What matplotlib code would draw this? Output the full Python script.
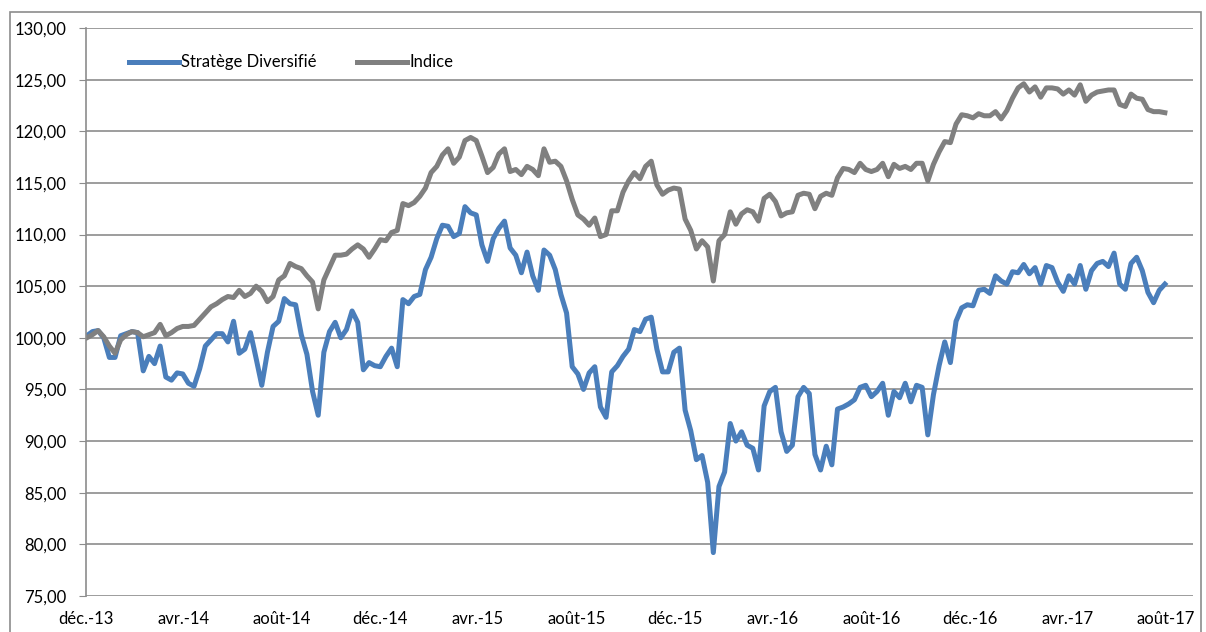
import matplotlib.pyplot as plt
from matplotlib.patches import Rectangle
from matplotlib.ticker import FuncFormatter
import pandas as pd

plt.rcParams['font.family'] = ['Lato', 'DejaVu Sans']

# valeurs hebdomadaires (déc. 2013 -> juil. 2017)
strat = [
    100.2, 100.6, 100.7, 100.0, 98.1, 98.1, 100.2, 100.4, 100.6, 100.5,
    96.8, 98.2, 97.5, 99.2, 96.2, 95.9, 96.6, 96.5, 95.6, 95.3,
    97.0, 99.2, 99.8, 100.4, 100.4, 99.6, 101.6, 98.5, 98.9, 100.5,
    98.0, 95.4, 98.6, 101.1, 101.6, 103.8, 103.3, 103.2, 100.3, 98.4,
    94.8, 92.5, 98.6, 100.6, 101.5, 100.0, 100.8, 102.6, 101.5, 96.9,
    97.6, 97.3, 97.2, 98.2, 99.0, 97.2, 103.7, 103.3, 104.0, 104.2,
    106.6, 107.8, 109.6, 110.9, 110.8, 109.8, 110.1, 112.7, 112.1, 111.9,
    109.0, 107.4, 109.6, 110.6, 111.3, 108.7, 108.0, 106.3, 108.3, 106.0,
    104.6, 108.5, 108.0, 106.6, 104.2, 102.4, 97.2, 96.5, 95.0, 96.6,
    97.2, 93.3, 92.3, 96.7, 97.3, 98.2, 98.9, 100.8, 100.6, 101.8,
    102.0, 98.9, 96.7, 96.7, 98.6, 99.0, 93.0, 91.0, 88.2, 88.6,
    86.0, 79.2, 85.6, 87.0, 91.7, 90.0, 90.9, 89.6, 89.3, 87.2,
    93.4, 94.8, 95.2, 90.9, 89.0, 89.6, 94.3, 95.2, 94.6, 88.7,
    87.2, 89.5, 87.7, 93.1, 93.3, 93.6, 94.0, 95.2, 95.4, 94.3,
    94.8, 95.6, 92.5, 94.8, 94.2, 95.6, 93.8, 95.4, 95.2, 90.6,
    94.5, 97.3, 99.6, 97.6, 101.6, 102.9, 103.2, 103.1, 104.6, 104.7,
    104.3, 106.0, 105.5, 105.2, 106.4, 106.3, 107.1, 106.2, 106.8, 105.2,
    107.0, 106.8, 105.4, 104.5, 106.0, 105.2, 107.0, 104.7, 106.5, 107.2,
    107.4, 106.9, 108.2, 105.2, 104.7, 107.2, 107.8, 106.5, 104.4, 103.4,
    104.6, 105.2,
]

indice = [
    100.0, 100.3, 100.7, 100.1, 99.2, 98.5, 99.8, 100.3, 100.6, 100.5,
    100.1, 100.3, 100.5, 101.3, 100.2, 100.5, 100.9, 101.1, 101.1, 101.2,
    101.8, 102.4, 103.0, 103.3, 103.7, 104.0, 103.9, 104.6, 104.0, 104.3,
    105.0, 104.5, 103.5, 104.0, 105.6, 106.0, 107.2, 106.9, 106.7, 106.0,
    105.4, 102.8, 105.6, 106.8, 108.0, 108.0, 108.1, 108.6, 109.0, 108.6,
    107.8, 108.6, 109.5, 109.4, 110.2, 110.4, 113.0, 112.8, 113.1, 113.7,
    114.5, 116.0, 116.6, 117.7, 118.3, 116.9, 117.5, 119.1, 119.4, 119.1,
    117.6, 116.0, 116.5, 117.8, 118.3, 116.1, 116.3, 115.8, 116.6, 116.3,
    115.7, 118.3, 117.0, 117.1, 116.6, 115.2, 113.4, 111.9, 111.5, 110.9,
    111.6, 109.8, 110.0, 112.3, 112.3, 114.1, 115.2, 116.0, 115.4, 116.6,
    117.1, 114.8, 113.9, 114.3, 114.5, 114.4, 111.5, 110.4, 108.6, 109.4,
    108.8, 105.5, 109.4, 110.0, 112.2, 111.0, 112.0, 112.4, 112.2, 111.3,
    113.5, 113.9, 113.2, 111.8, 112.1, 112.2, 113.8, 114.0, 113.9, 112.5,
    113.7, 114.0, 113.8, 115.5, 116.4, 116.3, 116.0, 116.9, 116.3, 116.1,
    116.3, 116.9, 115.6, 116.8, 116.4, 116.6, 116.3, 116.9, 116.9, 115.2,
    116.8, 118.0, 119.0, 118.9, 120.7, 121.6, 121.5, 121.3, 121.7, 121.5,
    121.5, 121.9, 121.2, 122.0, 123.2, 124.2, 124.6, 123.8, 124.3, 123.3,
    124.2, 124.2, 124.1, 123.6, 124.0, 123.5, 124.5, 122.9, 123.5, 123.8,
    123.9, 124.0, 124.0, 122.6, 122.4, 123.6, 123.2, 123.1, 122.1, 121.9,
    121.9, 121.8,
]

dates = pd.date_range('2013-12-02', periods=len(strat), freq='7D')

tick_dates = pd.to_datetime(['2013-12-01', '2014-04-01', '2014-08-01', '2014-12-01',
                             '2015-04-01', '2015-08-01', '2015-12-01', '2016-04-01',
                             '2016-08-01', '2016-12-01', '2017-04-01', '2017-08-01'])
tick_labels = ['déc.-13', 'avr.-14', 'août-14', 'déc.-14', 'avr.-15', 'août-15',
               'déc.-15', 'avr.-16', 'août-16', 'déc.-16', 'avr.-17', 'août-17']

fig = plt.figure(figsize=(12.06, 6.32), dpi=100)
ax = fig.add_axes([0.0713, 0.057, 0.918, 0.8987])

ax.plot(dates, strat, color='#4A7EBB', lw=3.6, label='Stratège Diversifié', solid_joinstyle='round')
ax.plot(dates, indice, color='#808080', lw=3.6, label='Indice', solid_joinstyle='round')

ax.set_ylim(75, 130)
ax.set_yticks(range(75, 131, 5))
ax.yaxis.set_major_formatter(FuncFormatter(lambda v, p: f'{v:.2f}'.replace('.', ',')))
ax.set_xlim(pd.Timestamp('2013-12-01'), pd.Timestamp('2017-09-04'))
ax.set_xticks(tick_dates)
ax.set_xticklabels(tick_labels)

ax.grid(axis='y', color='#8c8c8c', lw=1.2)
ax.set_axisbelow(True)
for s in ['top', 'right', 'bottom']:
    ax.spines[s].set_visible(False)
ax.spines['left'].set_color('#8c8c8c')
ax.spines['left'].set_linewidth(1.2)
ax.tick_params(axis='y', length=5, color='#8c8c8c', labelsize=12, pad=9)
ax.tick_params(axis='x', length=0, labelsize=12, pad=11)

ax.legend(loc='upper left', bbox_to_anchor=(0.025, 0.98), ncol=2, frameon=False,
          fontsize=12, handlelength=3.0, handletextpad=0.15, columnspacing=2.4)

fig.patches.append(Rectangle((0.008, -0.01), 0.988, 0.991, transform=fig.transFigure,
                             fill=False, edgecolor='#8c8c8c', lw=1.2))

fig.savefig('out.png', dpi=100)
